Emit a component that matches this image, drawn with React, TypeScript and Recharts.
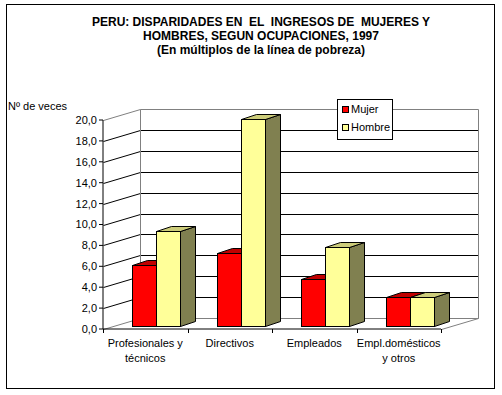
import { BarChart, Bar, XAxis, YAxis, CartesianGrid } from 'recharts';

const categories = ['Profesionales y\ntécnicos', 'Directivos', 'Empleados', 'Empl.domésticos\ny otros'];
const mujer = [5.8, 7.0, 4.5, 2.8];
const hombre = [9.1, 19.8, 7.6, 2.8];
const yTicks = [0, 2, 4, 6, 8, 10, 12, 14, 16, 18, 20];
const seriesNames = ['Mujer', 'Hombre'];
const titleLines = [
  'PERU: DISPARIDADES EN  EL  INGRESOS DE  MUJERES Y',
  'HOMBRES, SEGUN OCUPACIONES, 1997',
  '(En múltiplos de la línea de pobreza)',
];
const yLabel = 'Nº de veces';

const data = categories.map((name, i) => ({ name, mujer: mujer[i], hombre: hombre[i] }));

// layout of the front plane of the 3d box
const W = 502, H = 395;
const PLOT = { left: 103, top: 120, right: 441, bottom: 329 };
const Y_AXIS_W = 40, X_AXIS_H = 30;
const DEPTH_X = 37, DEPTH_Y = 11;       // front -> back wall
const BAR_SHIFT_X = 11, BAR_SHIFT_Y = 3; // bars sit a little behind the front plane
const BAR_DX = 15, BAR_DY = 5;           // bar depth
const FONT = '"Liberation Sans", Arial, sans-serif';
const GREY = '#808080';

const faces = [
  { front: '#ff0000', top: '#c00000', side: '#990000' },
  { front: '#ffff99', top: '#cccc7a', side: '#808050' },
];

const px = (v: number) => Math.round(v) + 0.5;
const pts = (a: number[][]) => a.map(q => q.join(',')).join(' ');

function prism(c: { front: string; top: string; side: string }) {
  return (p: any) => {
    const x = px(p.x + BAR_SHIFT_X);
    const y = px(p.y - BAR_SHIFT_Y);
    const w = Math.round(p.width);
    const h = Math.round(p.y + p.height) - Math.round(p.y);
    return (
      <g>
        <polygon
          points={pts([[x + w, y], [x + w + BAR_DX, y - BAR_DY], [x + w + BAR_DX, y + h - BAR_DY], [x + w, y + h]])}
          fill={c.side} stroke="#000"
        />
        <polygon
          points={pts([[x, y], [x + BAR_DX, y - BAR_DY], [x + w + BAR_DX, y - BAR_DY], [x + w, y]])}
          fill={c.top} stroke="#000"
        />
        <rect x={x} y={y} width={w} height={h} fill={c.front} stroke="#000" />
      </g>
    );
  };
}

function gridLine(p: any) {
  const { x1, x2, index } = p;
  const top = p.y, bottom = p.y + p.height;
  const y1 = px(p.y1);
  const isTop = Math.abs(p.y1 - top) < 0.5;
  const isBottom = Math.abs(p.y1 - bottom) < 0.5;
  const color = isTop || isBottom ? GREY : '#000';
  const bx1 = px(x1 + DEPTH_X), bx2 = px(x2 + DEPTH_X), by = px(p.y1 - DEPTH_Y);
  return (
    <g key={`grid-${index}`}>
      <line x1={px(x1)} y1={y1} x2={bx1} y2={by} stroke={color} />
      <line x1={bx1} y1={by} x2={bx2} y2={by} stroke={color} />
      {isTop && (
        <>
          <line x1={bx1} y1={by} x2={bx1} y2={px(bottom - DEPTH_Y)} stroke={GREY} />
          <line x1={bx2} y1={by} x2={bx2} y2={px(bottom - DEPTH_Y)} stroke={GREY} />
        </>
      )}
      {isBottom && <line x1={px(x2)} y1={y1} x2={bx2} y2={by} stroke={GREY} />}
    </g>
  );
}

function CatTick(p: any) {
  const { x, index, payload } = p;
  const bw = (PLOT.right - PLOT.left) / categories.length;
  const lines = String(payload.value).split('\n');
  const edge = (cx: number) => (
    <line x1={px(cx)} y1={PLOT.bottom} x2={px(cx)} y2={PLOT.bottom + 4} stroke="#000" />
  );
  return (
    <g>
      {edge(x - bw / 2)}
      {index === categories.length - 1 && edge(x + bw / 2)}
      <text x={x} y={PLOT.bottom + 17.5} textAnchor="middle" fontSize={11} fontFamily={FONT} fill="#000">
        {lines.map((l, i) => (
          <tspan key={i} x={x} dy={i === 0 ? 0 : 15}>{l}</tspan>
        ))}
      </text>
    </g>
  );
}

export default function App() {
  return (
    <div style={{ position: 'absolute', left: 0, top: 0, width: W, height: H, background: '#fff', fontFamily: FONT }}>
      <div style={{ position: 'absolute', left: 6, top: 4, width: 489, height: 385, border: '1px solid #000', boxSizing: 'border-box' }} />

      <div style={{ position: 'absolute', left: 20, top: 15, width: 482, textAlign: 'center', fontSize: 12, fontWeight: 'bold', lineHeight: '14px', whiteSpace: 'pre' }}>
        {titleLines.map(t => <div key={t}>{t}</div>)}
      </div>

      <div style={{ position: 'absolute', left: 8, top: 100, fontSize: 11, lineHeight: '13px' }}>{yLabel}</div>

      <BarChart
        width={W} height={H} data={data}
        margin={{ top: PLOT.top, right: W - PLOT.right, bottom: H - PLOT.bottom - X_AXIS_H, left: PLOT.left - Y_AXIS_W }}
        barGap={0} barSize={24}
        style={{ position: 'absolute', left: 0, top: 0 }}
      >
        <CartesianGrid vertical={false} horizontal={gridLine} />
        <XAxis
          dataKey="name" height={X_AXIS_H} interval={0}
          tick={CatTick} tickLine={false}
          axisLine={{ stroke: '#000' }}
        />
        <YAxis
          width={Y_AXIS_W} domain={[0, 20]} ticks={yTicks} interval={0}
          tickFormatter={(v: number) => v.toFixed(1).replace('.', ',')}
          tick={{ fill: '#000', fontSize: 11, fontFamily: FONT }}
          tickSize={4} tickMargin={2}
          tickLine={{ stroke: '#000' }} axisLine={{ stroke: '#000' }}
        />
        <Bar dataKey="mujer" name={seriesNames[0]} isAnimationActive={false} shape={prism(faces[0])} />
        <Bar dataKey="hombre" name={seriesNames[1]} isAnimationActive={false} shape={prism(faces[1])} />
      </BarChart>

      <svg width={56} height={41} style={{ position: 'absolute', left: 337, top: 99 }}>
        <rect x={0.5} y={0.5} width={55} height={40} fill="#fff" stroke="#000" />
        {seriesNames.map((s, i) => (
          <g key={s}>
            <rect x={5.5} y={7.5 + i * 18} width={6} height={6} fill={faces[i].front} stroke="#000" />
            <text x={14} y={14 + i * 18} fontSize={11} fontFamily={FONT} fill="#000">{s}</text>
          </g>
        ))}
      </svg>
    </div>
  );
}
